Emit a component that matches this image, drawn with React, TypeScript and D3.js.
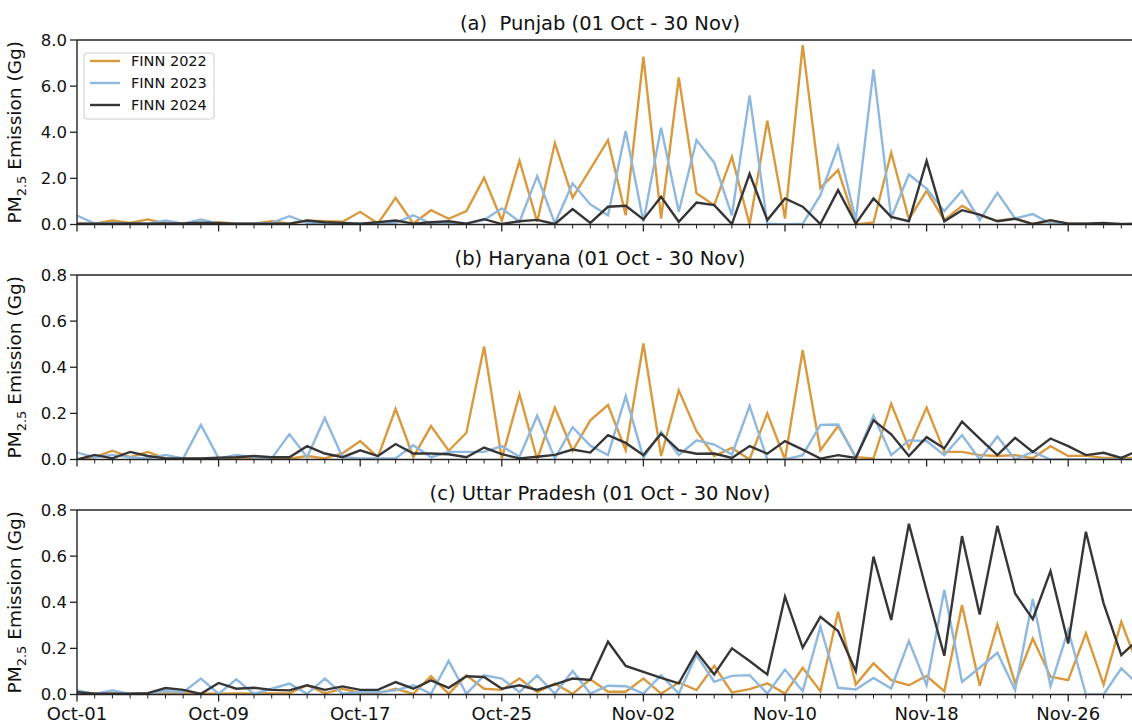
import React from "react";
import * as d3 from "d3";

// ---------- data (daily, 01 Oct .. 30 Nov) ----------
const tickDayIndex = [0, 8, 16, 24, 32, 40, 48, 56];
const tickLabels = ["Oct-01", "Oct-09", "Oct-17", "Oct-25", "Nov-02", "Nov-10", "Nov-18", "Nov-26"];
const seriesNames = ["FINN 2022", "FINN 2023", "FINN 2024"];
const seriesColors = ["#D99A3E", "#8FB8DF", "#363636"];

const punjab2022 = [0.04, 0.04, 0.17, 0.07, 0.22, 0.04, 0.04, 0.04, 0.1, 0.04, 0.03, 0.14, 0.04, 0.17, 0.14, 0.12, 0.55, 0.04, 1.16, 0.04, 0.62, 0.25, 0.58, 2.02, 0.17, 2.76, 0.12, 3.53, 1.16, 2.4, 3.66, 0.4, 7.28, 0.26, 6.38, 1.35, 0.84, 2.94, 0.0, 4.5, 0.26, 7.78, 1.59, 2.36, 0.0, 0.09, 3.11, 0.23, 1.46, 0.19, 0.81, 0.4, 0.16, 0.26, 0.03, 0.14, 0.05, 0.03, 0.04, 0.02, 0.03];
const punjab2023 = [0.39, 0.04, 0.07, 0.04, 0.04, 0.17, 0.04, 0.22, 0.04, 0.04, 0.03, 0.07, 0.36, 0.07, 0.04, 0.04, 0.04, 0.04, 0.07, 0.4, 0.04, 0.05, 0.05, 0.19, 0.7, 0.12, 2.1, 0.05, 1.78, 0.87, 0.4, 4.05, 0.12, 4.2, 0.55, 3.66, 2.68, 0.4, 5.6, 0.04, 0.0, 0.03, 1.27, 3.4, 0.19, 6.73, 0.29, 2.17, 1.56, 0.58, 1.46, 0.19, 1.37, 0.26, 0.45, 0.04, 0.03, 0.02, 0.02, 0.02, 0.02];
const punjab2024 = [0.04, 0.03, 0.03, 0.05, 0.04, 0.05, 0.05, 0.08, 0.06, 0.04, 0.03, 0.04, 0.04, 0.17, 0.1, 0.07, 0.04, 0.1, 0.17, 0.04, 0.1, 0.14, 0.04, 0.23, 0.02, 0.14, 0.2, 0.02, 0.67, 0.07, 0.77, 0.81, 0.22, 1.2, 0.12, 0.95, 0.84, 0.02, 2.2, 0.19, 1.13, 0.77, 0.02, 1.49, 0.04, 1.13, 0.33, 0.14, 2.76, 0.14, 0.62, 0.43, 0.14, 0.25, 0.02, 0.19, 0.04, 0.03, 0.07, 0.01, 0.04];

const haryana2022 = [0.0, 0.01, 0.038, 0.01, 0.033, 0.005, 0.003, 0.003, 0.003, 0.003, 0.003, 0.003, 0.003, 0.015, 0.005, 0.026, 0.08, 0.01, 0.22, 0.01, 0.145, 0.038, 0.116, 0.49, 0.005, 0.283, 0.0, 0.225, 0.038, 0.17, 0.236, 0.04, 0.503, 0.015, 0.3, 0.123, 0.015, 0.05, 0.0, 0.2, 0.0, 0.474, 0.04, 0.145, 0.01, 0.005, 0.242, 0.05, 0.225, 0.033, 0.033, 0.019, 0.015, 0.019, 0.005, 0.058, 0.015, 0.017, 0.007, 0.007, 0.007];
const haryana2023 = [0.03, 0.01, 0.02, 0.01, 0.005, 0.02, 0.005, 0.15, 0.005, 0.02, 0.01, 0.005, 0.11, 0.01, 0.18, 0.01, 0.005, 0.005, 0.005, 0.062, 0.01, 0.033, 0.033, 0.033, 0.058, 0.012, 0.19, 0.005, 0.14, 0.06, 0.019, 0.275, 0.007, 0.12, 0.019, 0.083, 0.065, 0.022, 0.232, 0.0, 0.0, 0.019, 0.15, 0.152, 0.007, 0.19, 0.019, 0.083, 0.08, 0.019, 0.106, 0.0, 0.1, 0.0, 0.033, 0.0, 0.0, 0.0, 0.0, 0.0, 0.0];
const haryana2024 = [0.0, 0.02, 0.005, 0.033, 0.015, 0.005, 0.005, 0.005, 0.008, 0.01, 0.015, 0.01, 0.01, 0.058, 0.026, 0.01, 0.04, 0.015, 0.067, 0.026, 0.026, 0.023, 0.01, 0.052, 0.023, 0.005, 0.012, 0.02, 0.043, 0.03, 0.106, 0.072, 0.019, 0.112, 0.04, 0.025, 0.026, 0.007, 0.058, 0.025, 0.08, 0.043, 0.004, 0.019, 0.007, 0.17, 0.109, 0.015, 0.097, 0.048, 0.164, 0.091, 0.019, 0.094, 0.033, 0.091, 0.058, 0.019, 0.029, 0.007, 0.04];

const up2022 = [0.01, 0.005, 0.005, 0.003, 0.003, 0.005, 0.005, 0.005, 0.003, 0.005, 0.005, 0.005, 0.005, 0.04, 0.005, 0.025, 0.006, 0.006, 0.025, 0.003, 0.079, 0.003, 0.083, 0.025, 0.02, 0.069, 0.01, 0.047, 0.003, 0.066, 0.012, 0.012, 0.069, 0.004, 0.052, 0.019, 0.124, 0.009, 0.023, 0.048, 0.004, 0.116, 0.014, 0.359, 0.043, 0.135, 0.062, 0.04, 0.08, 0.014, 0.388, 0.038, 0.304, 0.048, 0.243, 0.077, 0.062, 0.265, 0.043, 0.315, 0.113];
const up2023 = [0.018, 0.003, 0.018, 0.003, 0.003, 0.015, 0.01, 0.069, 0.003, 0.066, 0.003, 0.025, 0.047, 0.003, 0.069, 0.003, 0.01, 0.01, 0.018, 0.04, 0.003, 0.146, 0.003, 0.083, 0.069, 0.01, 0.083, 0.003, 0.102, 0.004, 0.038, 0.036, 0.004, 0.084, 0.004, 0.171, 0.055, 0.081, 0.084, 0.004, 0.108, 0.014, 0.294, 0.029, 0.022, 0.072, 0.026, 0.232, 0.04, 0.453, 0.055, 0.116, 0.181, 0.019, 0.414, 0.036, 0.279, 0.0, 0.0, 0.113, 0.04];
const up2024 = [0.01, 0.003, 0.003, 0.003, 0.006, 0.028, 0.02, 0.003, 0.05, 0.025, 0.029, 0.02, 0.018, 0.04, 0.02, 0.035, 0.02, 0.02, 0.054, 0.025, 0.061, 0.029, 0.079, 0.076, 0.025, 0.04, 0.02, 0.044, 0.069, 0.063, 0.229, 0.124, 0.098, 0.072, 0.048, 0.185, 0.087, 0.2, 0.145, 0.087, 0.424, 0.203, 0.337, 0.275, 0.101, 0.598, 0.323, 0.74, 0.45, 0.168, 0.687, 0.347, 0.732, 0.438, 0.327, 0.535, 0.221, 0.706, 0.395, 0.171, 0.243];

const panelTitles = ["(a)  Punjab (01 Oct - 30 Nov)", "(b) Haryana (01 Oct - 30 Nov)", "(c) Uttar Pradesh (01 Oct - 30 Nov)"];
const panelYMax = [8, 0.8, 0.8];
const panelYTicks = [[0, 2, 4, 6, 8], [0, 0.2, 0.4, 0.6, 0.8], [0, 0.2, 0.4, 0.6, 0.8]];
const panelSeries = [
  [punjab2022, punjab2023, punjab2024],
  [haryana2022, haryana2023, haryana2024],
  [up2022, up2023, up2024],
];

// ---------- layout ----------
const W = 1132;
const H = 723;
const LEFT = 77;
const RIGHT = 1139;
const PANEL_TOPS = [40, 275, 510];
const PANEL_H = 184.5;
const FONT = "DejaVu Sans, sans-serif";

const x = d3.scaleLinear().domain([0, 60]).range([LEFT, RIGHT]);
const allDays = d3.range(0, 61);

function Panel({ idx }: { idx: number }) {
  const top = PANEL_TOPS[idx];
  const bottom = top + PANEL_H;
  const y = d3.scaleLinear().domain([0, panelYMax[idx]]).range([bottom, top]);
  const line = d3
    .line<number>()
    .x((_, i) => x(i))
    .y((d) => y(d));
  const midY = (top + bottom) / 2;
  return (
    <g>
      <text x={600} y={top - 10} textAnchor="middle" fontSize={19.5} fontFamily={FONT} fill="#111" style={{ whiteSpace: "pre" }}>
        {panelTitles[idx]}
      </text>
      <defs>
        <clipPath id={`clip${idx}`}>
          <rect x={LEFT} y={top} width={RIGHT - LEFT} height={PANEL_H} />
        </clipPath>
      </defs>
      <g clipPath={`url(#clip${idx})`}>
        {panelSeries[idx].map((s, k) => (
          <path key={k} d={line(s) || ""} fill="none" stroke={seriesColors[k]} strokeWidth={2.4} strokeLinejoin="miter" />
        ))}
      </g>
      {/* spines */}
      <line x1={LEFT} x2={RIGHT} y1={top} y2={top} stroke="#222" strokeWidth={1.4} />
      <line x1={LEFT} x2={RIGHT} y1={bottom} y2={bottom} stroke="#222" strokeWidth={1.4} />
      <line x1={LEFT} x2={LEFT} y1={top} y2={bottom} stroke="#222" strokeWidth={1.4} />
      <line x1={RIGHT} x2={RIGHT} y1={top} y2={bottom} stroke="#222" strokeWidth={1.4} />
      {/* y ticks */}
      {panelYTicks[idx].map((t) => (
        <g key={t}>
          <line x1={LEFT - 7} x2={LEFT} y1={y(t)} y2={y(t)} stroke="#222" strokeWidth={1.3} />
          <text x={LEFT - 10} y={y(t)} dy="0.36em" textAnchor="end" fontSize={16.5} fontFamily={FONT} fill="#111">
            {d3.format(".1f")(t)}
          </text>
        </g>
      ))}
      {/* x ticks */}
      {allDays.map((d) => (
        <line key={d} x1={x(d)} x2={x(d)} y1={bottom} y2={bottom + (tickDayIndex.includes(d) ? 7 : 4)} stroke="#222" strokeWidth={tickDayIndex.includes(d) ? 1.3 : 1} />
      ))}
      {idx === 2 &&
        tickDayIndex.map((d, i) => (
          <text key={d} x={x(d)} y={bottom + 25} textAnchor="middle" fontSize={18} fontFamily={FONT} fill="#111">
            {tickLabels[i]}
          </text>
        ))}
      {/* y label */}
      <text transform={`translate(${21},${midY}) rotate(-90)`} textAnchor="middle" fontSize={18.5} fontFamily={FONT} fill="#111">
        PM<tspan fontSize={13} dy={5}>2.5</tspan>
        <tspan dy={-5}> Emission (Gg)</tspan>
      </text>
      {idx === 0 && (
        <g>
          <rect x={84} y={53} width={130} height={66} rx={3} fill="white" fillOpacity={0.85} stroke="#cccccc" strokeWidth={1} />
          {seriesNames.map((n, k) => (
            <g key={n}>
              <line x1={90} x2={120} y1={61 + k * 22} y2={61 + k * 22} stroke={seriesColors[k]} strokeWidth={2.4} />
              <text x={131} y={61 + k * 22} dy="0.36em" fontSize={14.5} fontFamily={FONT} fill="#111">
                {n}
              </text>
            </g>
          ))}
        </g>
      )}
    </g>
  );
}

export default function App() {
  return (
    <svg width={W} height={H} style={{ position: "absolute", left: 0, top: 0, background: "white" }}>
      <rect x={0} y={0} width={W} height={H} fill="white" />
      {[0, 1, 2].map((i) => (
        <Panel key={i} idx={i} />
      ))}
    </svg>
  );
}
